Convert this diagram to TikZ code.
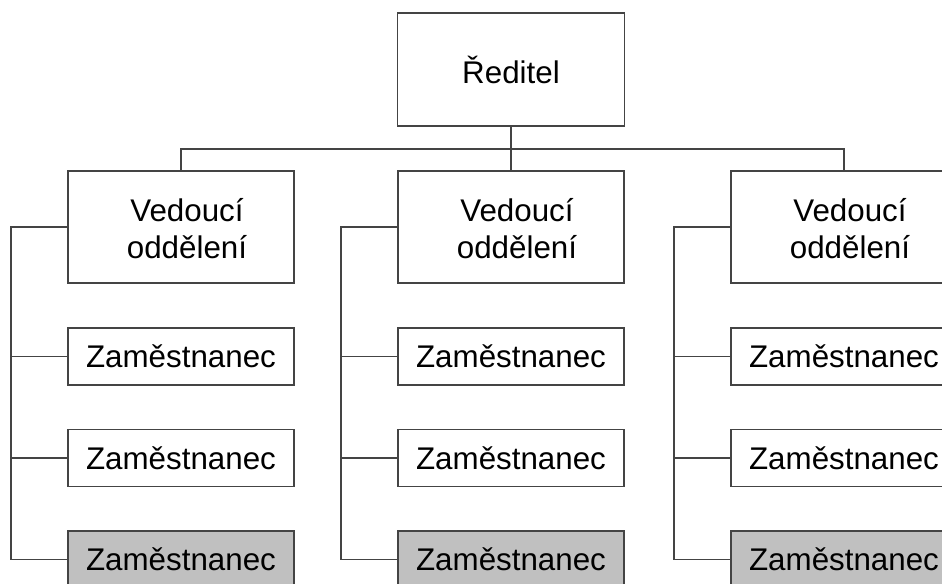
\documentclass[tikz,border=0pt]{standalone}
\usepackage{fontspec}
\setmainfont{Liberation Sans}
\definecolor{linegray}{RGB}{68,68,68}
\definecolor{boxgray}{RGB}{192,192,192}
\begin{document}
\begin{tikzpicture}[x=0.75pt,y=-0.75pt,
    line width=1.1pt, draw=linegray,
    boxbase/.style={draw=linegray, line width=1.1pt, inner sep=0pt,
      font=\fontsize{23.5}{27.75}\selectfont, align=center},
    chief/.style={boxbase, minimum width=170.25pt, minimum height=84.75pt},
    lead/.style={boxbase, minimum width=169.5pt, minimum height=84pt},
    emp/.style={boxbase, minimum width=169.5pt, minimum height=42.5pt, fill=white},
    lastemp/.style={emp, fill=boxgray},
    leadtext/.style={inner sep=0pt, font=\fontsize{23.5}{27.75}\selectfont, align=center}]
    \useasboundingbox (0,0) rectangle (942,583);
    \clip (0,0) rectangle (942,583);
    % top
    \node[chief] (r) at (511,69.5) {Ředitel};
    \coordinate (h) at (511,149);
    \draw[linegray] (r.south) -- (h);
    % columns
    \foreach \c/\x in {1/181, 2/511, 3/844} {
        \node[lead] (v\c) at (\x,227) {};
        \node[leadtext] (vt\c) at (\x+6,229) {Vedoucí\\oddělení};
        \node[emp] (za\c) at (\x,356.5) {Zaměstnanec};
        \node[emp] (zb\c) at (\x,458) {Zaměstnanec};
        \node[lastemp] (zc\c) at (\x,559.5) {Zaměstnanec};
        \draw[linegray] (h) -| (v\c.north);
        \coordinate (s\c) at (\x-170,227);
        \draw[linegray] (v\c.west) -- (s\c) |- (zc\c.west);
        \draw[linegray] (s\c |- za\c.west) -- (za\c.west);
        \draw[linegray] (s\c |- zb\c.west) -- (zb\c.west);
    }
\end{tikzpicture}
\end{document}
